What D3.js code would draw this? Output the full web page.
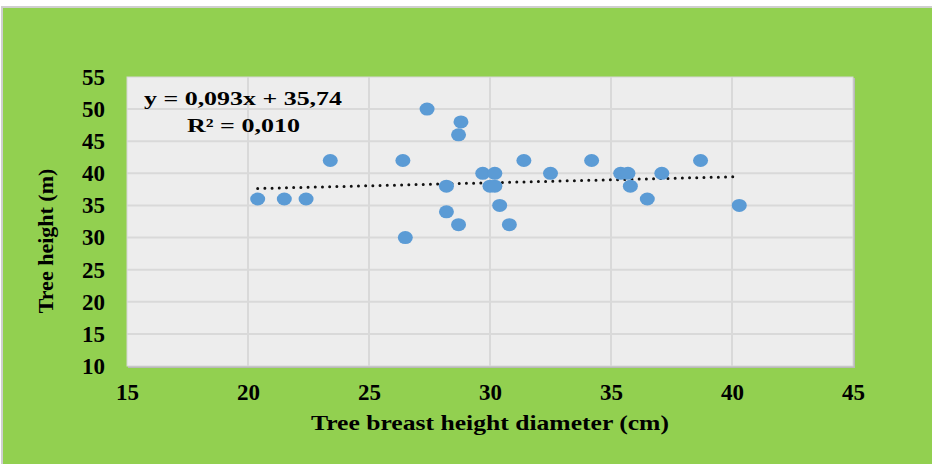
<!DOCTYPE html>
<html>
<head>
<meta charset="utf-8">
<script src="https://cdn.jsdelivr.net/npm/d3@7"></script>
<style>
  html, body { margin: 0; padding: 0; background: #fff; }
  svg { display: block; }
  text { font-family: "Liberation Serif", "Times New Roman", serif; font-weight: bold; fill: #000; }
</style>
</head>
<body>
<svg id="chart"></svg>
<script>
// tree breast height diameter (cm)
const diameters = [20.4, 21.5, 22.4, 23.4, 26.4, 26.5, 27.4, 28.2, 28.2, 28.7,
  28.7, 28.8, 29.7, 30.0, 30.2, 30.2, 30.4, 30.8, 31.4, 32.5,
  34.2, 35.4, 35.7, 35.8, 36.5, 37.1, 38.7, 40.3];
// tree height (m)
const heights = [36, 36, 36, 42, 42, 30, 50, 38, 34, 32,
  46, 48, 40, 38, 38, 40, 35, 32, 42, 40,
  42, 40, 40, 38, 36, 40, 42, 35];
const xTicks = [15, 20, 25, 30, 35, 40, 45];
const yTicks = [10, 15, 20, 25, 30, 35, 40, 45, 50, 55];
const trend = { slope: 0.093, intercept: 35.74 };
const eqLabel = 'y = 0,093x + 35,74';
const r2Label = 'R² = 0,010';

const W = 932, H = 464;
const margin = { top: 77, right: 79, bottom: 98, left: 127 };
const width = W - margin.left - margin.right;
const height = H - margin.top - margin.bottom;

const svg = d3.select('#chart').attr('width', W).attr('height', H);

// green panel with thin grey frame
svg.append('rect')
  .attr('x', 2).attr('y', 7).attr('width', W).attr('height', H)
  .attr('fill', '#92d050').attr('stroke', '#cfcfcf').attr('stroke-width', 2);

const x = d3.scaleLinear().domain([15, 45]).range([0, width]);
const y = d3.scaleLinear().domain([10, 55]).range([height, 0]);

const g = svg.append('g').attr('transform', `translate(${margin.left},${margin.top})`);

// plot area with a soft shadow on the right/bottom
g.append('rect')
  .attr('x', 1).attr('y', 1).attr('width', width + 1).attr('height', height + 1)
  .attr('fill', '#b9b9b9');
g.append('rect')
  .attr('width', width).attr('height', height)
  .attr('fill', '#ededed').attr('stroke', '#d6d6d6').attr('stroke-width', 1);

// gridlines
g.append('g')
  .selectAll('line')
  .data(yTicks.slice(1, -1))
  .join('line')
  .attr('x1', 0).attr('x2', width)
  .attr('y1', d => y(d)).attr('y2', d => y(d))
  .attr('stroke', '#d9d9d9').attr('stroke-width', 2);
g.append('g')
  .selectAll('line')
  .data(xTicks.slice(1, -1))
  .join('line')
  .attr('y1', 0).attr('y2', height)
  .attr('x1', d => x(d)).attr('x2', d => x(d))
  .attr('stroke', '#d9d9d9').attr('stroke-width', 2);

// axes: labels only
const xAxis = g.append('g')
  .attr('transform', `translate(0,${height})`)
  .call(d3.axisBottom(x).tickValues(xTicks).tickSize(0).tickPadding(18));
const yAxis = g.append('g')
  .call(d3.axisLeft(y).tickValues(yTicks).tickSize(0).tickPadding(22));
[xAxis, yAxis].forEach(a => {
  a.select('.domain').remove();
  a.selectAll('text')
    .attr('fill', '#000')
    .style('font-family', '"Liberation Serif", "Times New Roman", serif')
    .style('font-weight', 'bold')
    .style('font-size', '23px');
});

// trendline (dotted)
const xExtent = d3.extent(diameters);
g.append('line')
  .attr('x1', x(xExtent[0])).attr('y1', y(trend.slope * xExtent[0] + trend.intercept))
  .attr('x2', x(xExtent[1])).attr('y2', y(trend.slope * xExtent[1] + trend.intercept))
  .attr('stroke', '#111').attr('stroke-width', 3)
  .attr('stroke-linecap', 'round').attr('stroke-dasharray', '0 7.2');

// points
const pts = diameters.map((d, i) => ({ x: d, y: heights[i] }));
g.append('g')
  .selectAll('ellipse')
  .data(pts)
  .join('ellipse')
  .attr('cx', d => x(d.x)).attr('cy', d => y(d.y))
  .attr('rx', 7.5).attr('ry', 6.5)
  .attr('fill', '#5b9bd5');

// equation label
g.append('text')
  .attr('x', 17).attr('y', 28)
  .attr('textLength', 198).attr('lengthAdjust', 'spacingAndGlyphs')
  .style('font-size', '19px')
  .text(eqLabel);
g.append('text')
  .attr('x', 60).attr('y', 55)
  .attr('textLength', 113).attr('lengthAdjust', 'spacingAndGlyphs')
  .style('font-size', '19px')
  .text(r2Label);

// axis titles
svg.append('text')
  .attr('x', margin.left + width / 2).attr('y', 430)
  .attr('text-anchor', 'middle')
  .attr('textLength', 358).attr('lengthAdjust', 'spacingAndGlyphs')
  .style('font-size', '22px')
  .text('Tree breast height diameter (cm)');
svg.append('text')
  .attr('transform', 'translate(53,241) rotate(-90)')
  .attr('text-anchor', 'middle')
  .style('font-size', '22px')
  .text('Tree height (m)');
</script>
</body>
</html>
